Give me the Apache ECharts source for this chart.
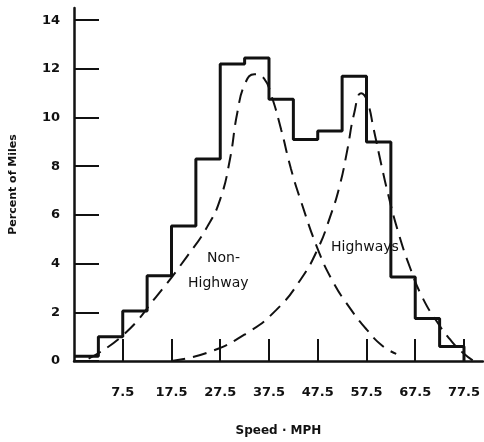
<!DOCTYPE html>
<html>
<head>
<meta charset="utf-8">
<script src="https://cdn.jsdelivr.net/npm/echarts@6/dist/echarts.min.js"></script>
<style>
  html, body { margin: 0; padding: 0; background: #fff; }
  #chart { width: 484px; height: 442px; }
</style>
</head>
<body>
<div id="chart"></div>
<script>
  // histogram: left edge of each 5 mph bin and its percent
  var binStarts = [-2.5, 2.5, 7.5, 12.5, 17.5, 22.5, 27.5, 32.5, 37.5, 42.5, 47.5, 52.5, 57.5, 62.5, 67.5, 72.5, 77.5]
  var binPercent = [0.2, 1.0, 2.05, 3.5, 5.55, 8.3, 12.2, 12.45, 10.75, 9.1, 9.45, 11.7, 9.0, 3.45, 1.75, 0.6, 0]

  // dashed curves
  var nonHwySpeed = [0.5, 7.5, 14.6, 20.7, 24.8, 27.5, 29.5, 31, 32.6, 34.5, 36.5, 38, 40, 42, 44, 47.5, 50.5, 54, 57.5, 60.8, 63.6]
  var nonHwyPct = [0.1, 1.05, 2.7, 4.3, 5.5, 6.65, 8.3, 10.2, 11.4, 11.78, 11.6, 10.9, 9.5, 7.9, 6.6, 4.6, 3.3, 2.2, 1.3, 0.62, 0.29]

  var hwySpeed = [17.5, 25, 33, 39, 44, 47.5, 50, 52, 53.5, 55, 56.4, 57.6, 59, 60.5, 62, 64, 66.5, 69, 72, 75, 77.5, 79.5]
  var hwyPct = [0.0, 0.35, 1.15, 2.1, 3.35, 4.6, 5.9, 7.2, 8.6, 10.2, 11.0, 10.7, 9.5, 8.1, 6.8, 5.3, 3.8, 2.6, 1.6, 0.8, 0.3, 0.0]

  var xTicks = [7.5, 17.5, 27.5, 37.5, 47.5, 57.5, 67.5, 77.5]
  var yTicks = [0, 2, 4, 6, 8, 10, 12, 14]

  var ink = '#111'
  var font = 'DejaVu Sans'

  function pairs(xs, ys) {
    var out = []
    xs.forEach(function (x, i) { out.push([x, ys[i]]) })
    return out
  }

  var chart = echarts.init(document.getElementById('chart'))
  var option = {
    animation: false,
    backgroundColor: '#fff',
    grid: { left: 72, right: 1, top: 8, bottom: 80 },
    xAxis: {
      type: 'value',
      min: -2.5,
      max: 81.4,
      name: 'Speed · MPH',
      nameLocation: 'middle',
      nameGap: 64,
      nameTextStyle: { color: ink, fontFamily: font, fontWeight: 'bold', fontSize: 12 },
      axisLine: { onZero: false, lineStyle: { color: ink, width: 2.5 } },
      axisTick: { show: true, inside: true, length: 22, lineStyle: { color: ink, width: 2 }, customValues: xTicks },
      axisLabel: { color: ink, fontFamily: font, fontWeight: 'bold', fontSize: 13, margin: 25, customValues: xTicks },
      splitLine: { show: false }
    },
    yAxis: {
      type: 'value',
      min: 0,
      max: 14.5,
      name: 'Percent of Miles',
      nameLocation: 'middle',
      nameGap: 55,
      nameTextStyle: { color: ink, fontFamily: font, fontWeight: 'bold', fontSize: 11 },
      axisLine: { show: true, onZero: false, lineStyle: { color: ink, width: 2.5 } },
      axisTick: { show: true, inside: true, length: 25, lineStyle: { color: ink, width: 2 }, customValues: yTicks },
      axisLabel: { color: ink, fontFamily: font, fontWeight: 'bold', fontSize: 13, margin: 14, customValues: yTicks },
      splitLine: { show: false }
    },
    series: [
      {
        name: 'Distribution',
        type: 'line',
        step: 'end',
        symbol: 'none',
        lineStyle: { color: ink, width: 3 },
        data: pairs(binStarts, binPercent)
      },
      {
        name: 'Non-Highway',
        type: 'line',
        smooth: 0.5,
        symbol: 'none',
        lineStyle: { color: ink, width: 2, type: [14, 8] },
        data: pairs(nonHwySpeed, nonHwyPct)
      },
      {
        name: 'Highways',
        type: 'line',
        smooth: 0.5,
        symbol: 'none',
        lineStyle: { color: ink, width: 2, type: [14, 8] },
        data: pairs(hwySpeed, hwyPct)
      }
    ],
    graphic: [
      { type: 'text', left: 207, top: 251, style: { text: 'Non-', fill: ink, font: '14px "DejaVu Sans"' } },
      { type: 'text', left: 188, top: 276, style: { text: 'Highway', fill: ink, font: '14px "DejaVu Sans"' } },
      { type: 'text', left: 331, top: 240, style: { text: 'Highways', fill: ink, font: '14px "DejaVu Sans"' } }
    ]
  }
  chart.setOption(option)
</script>
</body>
</html>
